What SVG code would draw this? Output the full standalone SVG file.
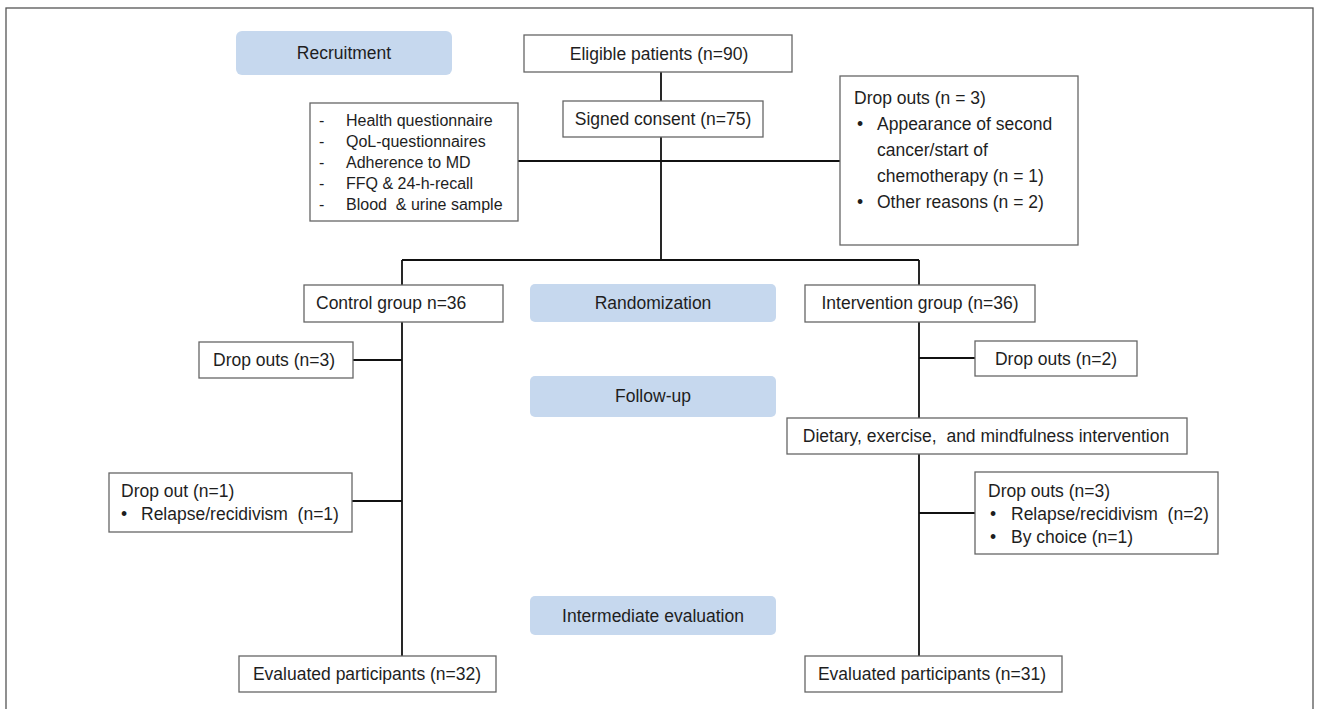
<svg xmlns="http://www.w3.org/2000/svg" width="1320" height="709" viewBox="0 0 1320 709">
<style>
.box{fill:#fff;stroke:#666;stroke-width:1.3}
.phase{fill:#c6d8ee;stroke:none}
.t{font-family:"Liberation Sans",Arial,sans-serif;font-size:17.5px;fill:#1e1e1e;white-space:pre}
.s{font-size:16px}
.c{text-anchor:middle}
.ln{stroke:#111;stroke-width:1.8;fill:none}
</style>
<rect x="0" y="0" width="1320" height="709" fill="#fff"/>
<rect x="6" y="8" width="1307" height="720" fill="none" stroke="#555" stroke-width="1.3"/>

<g id="connectors">
<path class="ln" d="M661 72V101M661 137V260M518 161H840M402 260H919M402 260V285M919 260V285"/>
<path class="ln" d="M402 322V656M353 360H402M352 501H402"/>
<path class="ln" d="M919 322V418M919 358H975M919 454V656M919 513H975"/>
</g>

<g id="recruitment"><rect class="phase" x="236" y="31" width="216" height="44" rx="6"/><text class="t c" x="344" y="59">Recruitment</text></g>
<g id="eligible"><rect class="box" x="524" y="35" width="268" height="37"/><text class="t c" x="659" y="60">Eligible patients (n=90)</text></g>
<g id="consent"><rect class="box" x="563" y="101" width="200" height="36"/><text class="t c" x="663" y="125">Signed consent (n=75)</text></g>
<g id="baseline"><rect class="box" x="310" y="103" width="208" height="118"/>
<text class="t s" x="319" y="126">-</text><text class="t s" x="346" y="126">Health questionnaire</text>
<text class="t s" x="319" y="147">-</text><text class="t s" x="346" y="147">QoL-questionnaires</text>
<text class="t s" x="319" y="168">-</text><text class="t s" x="346" y="168">Adherence to MD</text>
<text class="t s" x="319" y="189">-</text><text class="t s" x="346" y="189">FFQ &amp; 24-h-recall</text>
<text class="t s" x="319" y="210">-</text><text class="t s" x="346" y="210">Blood  &amp; urine sample</text>
</g>
<g id="dropouts-recruit"><rect class="box" x="840" y="76" width="238" height="169"/>
<text class="t" x="854" y="104">Drop outs (n = 3)</text>
<text class="t" x="857" y="130">•</text><text class="t" x="877" y="130">Appearance of second</text>
<text class="t" x="877" y="156">cancer/start of</text>
<text class="t" x="877" y="182">chemotherapy (n = 1)</text>
<text class="t" x="857" y="208">•</text><text class="t" x="877" y="208">Other reasons (n = 2)</text>
</g>
<g id="control"><rect class="box" x="304" y="285" width="199" height="37"/><text class="t" x="316" y="309">Control group n=36</text></g>
<g id="randomization"><rect class="phase" x="530" y="284" width="246" height="38" rx="5"/><text class="t c" x="653" y="309">Randomization</text></g>
<g id="intervention"><rect class="box" x="805" y="285" width="230" height="37"/><text class="t c" x="920" y="309">Intervention group (n=36)</text></g>
<g id="dropouts-c1"><rect class="box" x="199" y="342" width="154" height="36"/><text class="t" x="213" y="366">Drop outs (n=3)</text></g>
<g id="followup"><rect class="phase" x="530" y="376" width="246" height="41" rx="5"/><text class="t c" x="653" y="402">Follow-up</text></g>
<g id="dropouts-i1"><rect class="box" x="975" y="341" width="162" height="35"/><text class="t c" x="1056" y="365">Drop outs (n=2)</text></g>
<g id="program"><rect class="box" x="787" y="418" width="400" height="36"/><text class="t c" x="986" y="442">Dietary, exercise,  and mindfulness intervention</text></g>
<g id="dropouts-c2"><rect class="box" x="109" y="473" width="243" height="59"/>
<text class="t" x="121" y="497">Drop out (n=1)</text>
<text class="t" x="121" y="520">•</text><text class="t" x="141" y="520">Relapse/recidivism  (n=1)</text>
</g>
<g id="dropouts-i2"><rect class="box" x="975" y="472" width="243" height="82"/>
<text class="t" x="988" y="497">Drop outs (n=3)</text>
<text class="t" x="990" y="520">•</text><text class="t" x="1011" y="520">Relapse/recidivism  (n=2)</text>
<text class="t" x="990" y="543">•</text><text class="t" x="1011" y="543">By choice (n=1)</text>
</g>
<g id="intermediate"><rect class="phase" x="530" y="596" width="246" height="39" rx="5"/><text class="t c" x="653" y="622">Intermediate evaluation</text></g>
<g id="eval-control"><rect class="box" x="239" y="656" width="257" height="36"/><text class="t c" x="367" y="680">Evaluated participants (n=32)</text></g>
<g id="eval-intervention"><rect class="box" x="805" y="656" width="257" height="36"/><text class="t c" x="932" y="680">Evaluated participants (n=31)</text></g>
</svg>
